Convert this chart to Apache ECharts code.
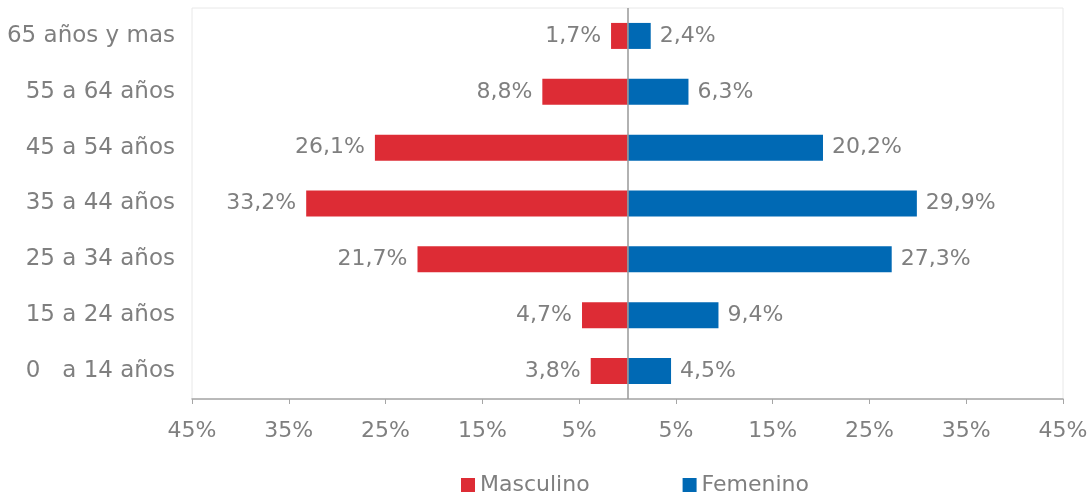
<!DOCTYPE html>
<html>
<head>
<meta charset="utf-8">
<script src="https://cdn.jsdelivr.net/npm/echarts@6/dist/echarts.min.js"></script>
<style>
  html, body { margin: 0; padding: 0; background: #fff; }
  #chart { width: 1091px; height: 498px; }
</style>
</head>
<body>
<div id="chart"></div>
<script>
// grupos de edad, de abajo hacia arriba
var categorias = ['0   a 14 años', '15 a 24 años', '25 a 34 años', '35 a 44 años', '45 a 54 años', '55 a 64 años', '65 años y mas']
var masculino = [3.8, 4.7, 21.7, 33.2, 26.1, 8.8, 1.7]
var femenino = [4.5, 9.4, 27.3, 29.9, 20.2, 6.3, 2.4]
var ejeMin = -45
var ejeMax = 45
var ejePaso = 10

var gris = '#7f7f7f'
var fuente = 'DejaVu Sans'

function pct (v) {
  return Math.abs(v).toFixed(1).replace('.', ',') + '%'
}

var dom = echarts.init(document.getElementById('chart'))
var option = {
  animation: false,
  textStyle: { fontFamily: fuente },
  grid: {
    left: 192,
    right: 28,
    top: 8,
    bottom: 99,
    show: true,
    borderColor: '#e8e8e8',
    borderWidth: 1
  },
  legend: {
    left: 456,
    top: 469,
    icon: 'rect',
    itemWidth: 14,
    itemHeight: 14,
    itemGap: 93,
    textStyle: { color: gris, fontSize: 22, fontFamily: fuente },
    data: ['Masculino', 'Femenino']
  },
  xAxis: {
    type: 'value',
    min: ejeMin,
    max: ejeMax,
    interval: ejePaso,
    axisLine: { show: true, lineStyle: { color: '#a6a6a6', width: 1.5 } },
    axisTick: { show: true, length: 5, lineStyle: { color: '#a6a6a6' } },
    splitLine: { show: false },
    axisLabel: {
      color: gris,
      fontSize: 22,
      fontFamily: fuente,
      margin: 21,
      formatter: function (v) { return Math.abs(v) + '%' }
    }
  },
  yAxis: {
    type: 'category',
    data: categorias,
    axisLine: { show: false },
    axisTick: { show: false },
    axisLabel: { color: gris, fontSize: 23, fontFamily: fuente, margin: 17 }
  },
  series: [
    {
      name: 'Masculino',
      type: 'bar',
      barWidth: 26,
      barGap: '-100%',
      itemStyle: { color: '#dd2c35' },
      label: {
        show: true,
        position: 'left',
        distance: 10,
        color: gris,
        fontSize: 22,
        fontFamily: fuente,
        formatter: function (p) { return pct(p.value) }
      },
      markLine: {
        silent: true,
        symbol: 'none',
        label: { show: false },
        lineStyle: { color: '#999999', type: 'solid', width: 1.5 },
        data: [{ xAxis: 0 }]
      },
      data: masculino.map(function (v) { return -v })
    },
    {
      name: 'Femenino',
      type: 'bar',
      barWidth: 26,
      barGap: '-100%',
      itemStyle: { color: '#0069b4' },
      label: {
        show: true,
        position: 'right',
        distance: 9,
        color: gris,
        fontSize: 22,
        fontFamily: fuente,
        formatter: function (p) { return pct(p.value) }
      },
      data: femenino
    }
  ]
}
dom.setOption(option)
</script>
</body>
</html>
